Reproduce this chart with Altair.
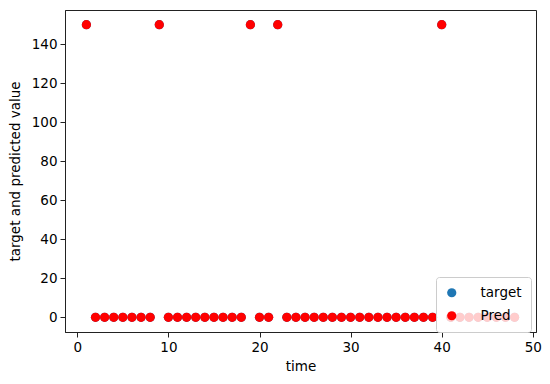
import altair as alt
import pandas as pd

time = list(range(1, 49))
pred = [150 if t in (1, 9, 19, 22, 40) else 0 for t in time]
target = list(pred)

rows = []
for t, v in zip(time, target):
    rows.append({"time": t, "value": v, "series": "target"})
for t, v in zip(time, pred):
    rows.append({"time": t, "value": v, "series": "Pred"})
df = pd.DataFrame(rows)

font = "DejaVu Sans"

chart = alt.Chart(df).mark_point(filled=True, opacity=1, size=85, shape="circle").encode(
    x=alt.X("time:Q", scale=alt.Scale(domain=[-1.35, 50.35], nice=False, zero=False),
            axis=alt.Axis(values=[0, 10, 20, 30, 40, 50], title="time", grid=False,
                          titlePadding=6)),
    y=alt.Y("value:Q", scale=alt.Scale(domain=[-7.5, 157.5], nice=False, zero=False),
            axis=alt.Axis(values=[0, 20, 40, 60, 80, 100, 120, 140],
                          title="target and predicted value", grid=False, titlePadding=9)),
    color=alt.Color("series:N", sort=["target", "Pred"],
                    scale=alt.Scale(domain=["target", "Pred"], range=["#1f77b4", "#ff0000"]),
                    legend=alt.Legend(title=None, orient="none", legendX=371, legendY=267,
                                      fillColor="rgba(255,255,255,0.8)", strokeColor="#cccccc",
                                      cornerRadius=3, padding=9, symbolSize=85,
                                      symbolType="circle", labelFontSize=13.5, labelFont=font,
                                      labelColor="#000", labelOffset=22, rowPadding=8,
                                      symbolStrokeWidth=0)),
).properties(
    width=471, height=322,
    autosize=alt.AutoSizeParams(type="none"),
    padding={"left": 57, "top": 2, "right": 6, "bottom": 44},
).configure_view(
    stroke="#222", strokeWidth=1
).configure_axis(
    labelFont=font, titleFont=font, labelFontSize=13.5, titleFontSize=13.5,
    titleFontWeight="normal", labelColor="#000", titleColor="#000",
    domainColor="#222", tickColor="#222", tickSize=5, labelPadding=3,
)

chart.save("out.html", embed_options={"renderer": "svg", "actions": False})
